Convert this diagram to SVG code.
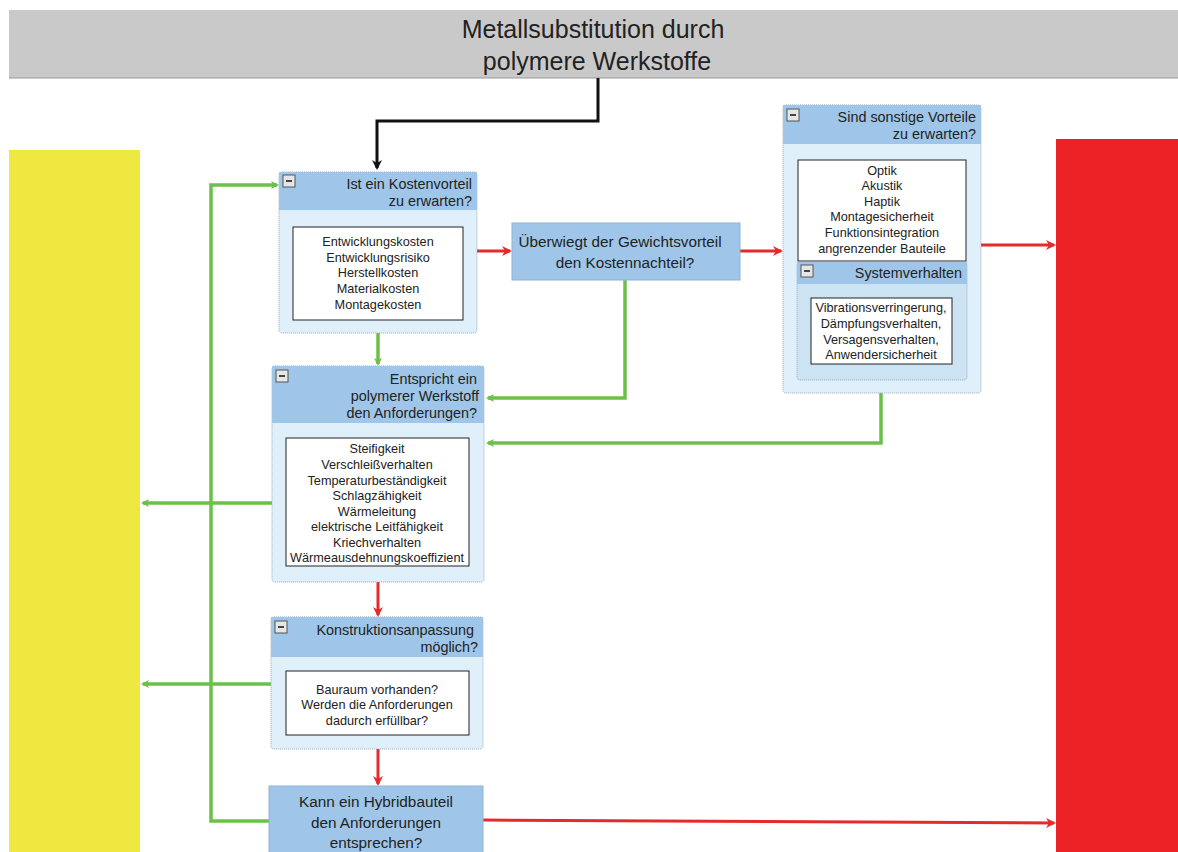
<svg xmlns="http://www.w3.org/2000/svg" width="1178" height="852" viewBox="0 0 1178 852">
<defs>
<style>
text{font-family:"Liberation Sans",Arial,sans-serif;fill:#222}
.cont{fill:#e0f0fa;stroke:#9aa8b8;stroke-width:1;stroke-dasharray:1 1}
.sub{fill:#cbe3f3;stroke:#9aa8b8;stroke-width:1;stroke-dasharray:1 1}
.hdr{fill:#9fc6e8}
.box{fill:#fff;stroke:#222;stroke-width:1}
.btn{fill:#e6e6e6;stroke:#555;stroke-width:1}
.ht{font-size:14.4px;text-anchor:end}
.it{font-size:12.7px;text-anchor:middle}
.dt{font-size:15.3px;text-anchor:middle}
.g{stroke:#6cc04a;stroke-width:3.5;fill:none}
.r{stroke:#e42a2c;stroke-width:3;fill:none}
.k{stroke:#111;stroke-width:3;fill:none}
</style>
<marker id="ag" markerWidth="8" markerHeight="8" refX="6" refY="4" orient="auto" markerUnits="userSpaceOnUse" viewBox="0 0 8 8"><path d="M0,0 L8,4 L0,8 L2,4 Z" fill="#6cc04a"/></marker>
<marker id="ar" markerWidth="10" markerHeight="10" refX="8" refY="5" orient="auto" markerUnits="userSpaceOnUse" viewBox="0 0 10 10"><path d="M0,0 L10,5 L0,10 L3,5 Z" fill="#e42a2c"/></marker>
<marker id="ak" markerWidth="10" markerHeight="10" refX="8" refY="5" orient="auto" markerUnits="userSpaceOnUse" viewBox="0 0 10 10"><path d="M0,0 L10,5 L0,10 L3,5 Z" fill="#111"/></marker>
</defs>
<rect width="1178" height="852" fill="#fff"/>

<g id="title">
<rect x="9" y="10" width="1169" height="68" fill="#c9c9c9"/>
<line x1="9" y1="78" x2="1178" y2="78" stroke="#999" stroke-width="1"/>
<text x="593" y="38" font-size="25" text-anchor="middle" fill="#111">Metallsubstitution durch</text>
<text x="597" y="70" font-size="25" text-anchor="middle" fill="#111">polymere Werkstoffe</text>
</g>

<g id="yellow"><rect x="9" y="150" width="131" height="702" fill="#efe841"/></g>
<g id="red"><rect x="1056" y="139" width="122" height="713" fill="#ec2227"/></g>

<g id="connectors">
<path class="k" d="M598,78 V121 H377 V168" marker-end="url(#ak)"/>
<path class="r" d="M477,251 H510" marker-end="url(#ar)"/>
<path class="r" d="M740,251 H781" marker-end="url(#ar)"/>
<path class="r" d="M981,245 H1054" marker-end="url(#ar)"/>
<path class="g" d="M625,280 V398 H488" marker-end="url(#ag)"/>
<path class="g" d="M881,393 V443 H488" marker-end="url(#ag)"/>
<path class="g" d="M378,333 V364" marker-end="url(#ag)"/>
<path class="g" d="M272,503 H143" marker-end="url(#ag)"/>
<path class="r" d="M378,582 V615" marker-end="url(#ar)"/>
<path class="g" d="M271,684 H143" marker-end="url(#ag)"/>
<path class="r" d="M378,749 V784" marker-end="url(#ar)"/>
<path class="g" d="M269,821 H211 V185 H277" marker-end="url(#ag)"/>
<path class="r" d="M483,820 L1054,823" marker-end="url(#ar)"/>
</g>

<g id="n1">
<rect class="cont" x="279" y="172" width="198" height="161" rx="3"/>
<rect class="hdr" x="279" y="172" width="198" height="38"/>
<rect class="btn" x="283" y="175" width="12" height="12"/><line x1="286" y1="181" x2="292" y2="181" stroke="#111" stroke-width="1.5"/>
<text class="ht" x="472" y="189">Ist ein Kostenvorteil</text>
<text class="ht" x="472" y="206">zu erwarten?</text>
<rect class="box" x="293" y="227" width="170" height="93"/>
<text class="it" x="378" y="246">Entwicklungskosten</text>
<text class="it" x="378" y="262">Entwicklungsrisiko</text>
<text class="it" x="378" y="277">Herstellkosten</text>
<text class="it" x="378" y="293">Materialkosten</text>
<text class="it" x="378" y="309">Montagekosten</text>
</g>

<g id="n2">
<rect x="512" y="223" width="228" height="57" fill="#9fc6e8" stroke="#8fb4d4"/>
<text class="dt" x="620" y="247">Überwiegt der Gewichtsvorteil</text>
<text class="dt" x="625" y="268">den Kostennachteil?</text>
</g>

<g id="n3">
<rect class="cont" x="783" y="105" width="198" height="288" rx="3"/>
<rect class="hdr" x="783" y="105" width="198" height="39"/>
<rect class="btn" x="787" y="109" width="12" height="12"/><line x1="790" y1="115" x2="796" y2="115" stroke="#111" stroke-width="1.5"/>
<text class="ht" x="976" y="122">Sind sonstige Vorteile</text>
<text class="ht" x="976" y="139">zu erwarten?</text>
<rect class="box" x="798" y="160" width="168" height="101"/>
<text class="it" x="882" y="175">Optik</text>
<text class="it" x="882" y="190">Akustik</text>
<text class="it" x="882" y="206">Haptik</text>
<text class="it" x="882" y="221">Montagesicherheit</text>
<text class="it" x="882" y="237">Funktionsintegration</text>
<text class="it" x="882" y="253">angrenzender Bauteile</text>
<g id="n3sub">
<rect class="sub" x="797" y="262" width="170" height="118" rx="3"/>
<rect class="hdr" x="797" y="262" width="170" height="22"/>
<rect class="btn" x="801" y="265" width="12" height="12"/><line x1="804" y1="271" x2="810" y2="271" stroke="#111" stroke-width="1.5"/>
<text class="ht" x="962" y="278">Systemverhalten</text>
<rect class="box" x="811" y="298" width="141" height="66"/>
<text class="it" x="881" y="312">Vibrationsverringerung,</text>
<text class="it" x="881" y="328">Dämpfungsverhalten,</text>
<text class="it" x="881" y="344">Versagensverhalten,</text>
<text class="it" x="881" y="359">Anwendersicherheit</text>
</g>
</g>

<g id="n4">
<rect class="cont" x="272" y="366" width="212" height="216" rx="3"/>
<rect class="hdr" x="272" y="366" width="212" height="57"/>
<rect class="btn" x="276" y="370" width="12" height="12"/><line x1="279" y1="376" x2="285" y2="376" stroke="#111" stroke-width="1.5"/>
<text class="ht" x="477" y="384">Entspricht ein</text>
<text class="ht" x="479" y="401">polymerer Werkstoff</text>
<text class="ht" x="477" y="418">den Anforderungen?</text>
<rect class="box" x="286" y="438" width="183" height="128"/>
<text class="it" x="377" y="453">Steifigkeit</text>
<text class="it" x="377" y="469">Verschleißverhalten</text>
<text class="it" x="377" y="485">Temperaturbeständigkeit</text>
<text class="it" x="377" y="500">Schlagzähigkeit</text>
<text class="it" x="377" y="516">Wärmeleitung</text>
<text class="it" x="377" y="531">elektrische Leitfähigkeit</text>
<text class="it" x="377" y="547">Kriechverhalten</text>
<text class="it" x="377" y="562">Wärmeausdehnungskoeffizient</text>
</g>

<g id="n5">
<rect class="cont" x="271" y="617" width="212" height="132" rx="3"/>
<rect class="hdr" x="271" y="617" width="212" height="40"/>
<rect class="btn" x="275" y="621" width="12" height="12"/><line x1="278" y1="627" x2="284" y2="627" stroke="#111" stroke-width="1.5"/>
<text class="ht" x="474" y="635">Konstruktionsanpassung</text>
<text class="ht" x="478" y="652">möglich?</text>
<rect class="box" x="286" y="671" width="183" height="64"/>
<text class="it" x="377" y="694">Bauraum vorhanden?</text>
<text class="it" x="377" y="709">Werden die Anforderungen</text>
<text class="it" x="377" y="725">dadurch erfüllbar?</text>
</g>

<g id="n6">
<rect x="269" y="786" width="214" height="70" fill="#9fc6e8" stroke="#8fb4d4"/>
<text class="dt" x="376" y="807">Kann ein Hybridbauteil</text>
<text class="dt" x="376" y="828">den Anforderungen</text>
<text class="dt" x="376" y="848">entsprechen?</text>
</g>
</svg>
